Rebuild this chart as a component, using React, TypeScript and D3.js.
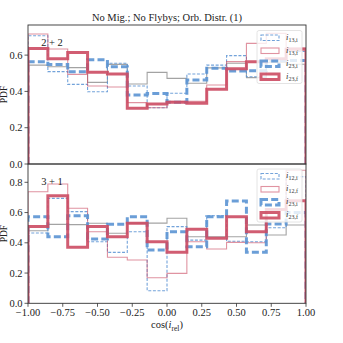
import React from "react";
import * as d3 from "d3";

// bin edges of cos(i_rel): 14 bins from -1 to 1
const edges = d3.range(15).map((i) => -1 + (2 * i) / 14);

// panel "2+2"
const top_gray = [0.545, 0.536, 0.531, 0.45, 0.549, 0.441, 0.505, 0.472, 0.445, 0.53, 0.555, 0.476, 0.56, 0.55];
const top_i13i = [0.707, 0.509, 0.439, 0.398, 0.555, 0.43, 0.31, 0.39, 0.496, 0.545, 0.597, 0.481, 0.58, 0.62];
const top_i13f = [0.716, 0.634, 0.494, 0.43, 0.424, 0.338, 0.31, 0.345, 0.345, 0.435, 0.564, 0.665, 0.72, 0.64];
const top_i23i = [0.564, 0.549, 0.509, 0.575, 0.536, 0.38, 0.389, 0.34, 0.463, 0.527, 0.512, 0.514, 0.57, 0.57];
const top_i23f = [0.637, 0.58, 0.615, 0.505, 0.496, 0.307, 0.33, 0.34, 0.335, 0.412, 0.525, 0.564, 0.58, 0.632];

// panel "3+1"
const bot_gray = [0.48, 0.522, 0.52, 0.529, 0.463, 0.53, 0.53, 0.562, 0.44, 0.44, 0.44, 0.518, 0.452, 0.518];
const bot_i12i = [0.465, 0.694, 0.606, 0.407, 0.337, 0.473, 0.083, 0.507, 0.418, 0.579, 0.41, 0.407, 0.5, 0.837];
const bot_i12f = [0.738, 0.789, 0.628, 0.473, 0.304, 0.286, 0.169, 0.198, 0.407, 0.359, 0.403, 0.4, 0.62, 0.88];
const bot_i23i = [0.573, 0.44, 0.579, 0.425, 0.522, 0.573, 0.352, 0.473, 0.374, 0.573, 0.676, 0.337, 0.524, 0.6];
const bot_i23f = [0.507, 0.711, 0.37, 0.507, 0.44, 0.529, 0.407, 0.337, 0.489, 0.43, 0.573, 0.473, 0.62, 0.678];

const xTicks = [-1, -0.75, -0.5, -0.25, 0, 0.25, 0.5, 0.75, 1];
const topYTicks = [0, 0.2, 0.4, 0.6];
const botYTicks = [0, 0.2, 0.4, 0.6, 0.8];

const RED = "#cc4b63";
const BLUE = "#5b93d3";
const FONT = "Liberation Serif, serif";

const styles = {
  gray: { stroke: "#999", width: 1.1, dash: "none", opacity: 0.9 },
  blueThin: { stroke: BLUE, width: 1.1, dash: "3,1.6", opacity: 0.85 },
  redThin: { stroke: RED, width: 1.1, dash: "none", opacity: 0.6 },
  blueThick: { stroke: BLUE, width: 3, dash: "7,3.2", opacity: 0.9 },
  redThick: { stroke: RED, width: 3, dash: "none", opacity: 0.9 },
};

const left = 28, right = 306;
const x = d3.scaleLinear().domain([-1, 1]).range([left, right]);

function stepPath(vals, y) {
  const pts = [[edges[0], 0]];
  vals.forEach((v, i) => {
    pts.push([edges[i], v]);
    pts.push([edges[i + 1], v]);
  });
  pts.push([edges[14], 0]);
  return d3.line().x((d) => x(d[0])).y((d) => y(d[1]))(pts);
}

const fmt = (v) => d3.format(".1f")(v);
const fmtX = (v) => d3.format(".2f")(v).replace("-", "\u2212");

function Label({ sub, x0, y0 }) {
  return (
    <text x={x0} y={y0} fontFamily={FONT} fontSize={8.5} fill="#333">
      <tspan fontStyle="italic">i</tspan>
      <tspan fontSize={6} dy={2}>{sub}</tspan>
    </text>
  );
}

function Panel({ id, y0, y1, ymax, ticks, series, legend, tag, showX }) {
  const y = d3.scaleLinear().domain([0, ymax]).range([y1, y0]);
  const lx = 257, lw = 45;
  const ly = y0 + (id === "a" ? 5.5 : 5);
  const mid = (y0 + y1) / 2;
  return (
    <g>
      <defs>
        <clipPath id={"clip" + id}>
          <rect x={left} y={y0} width={right - left} height={y1 - y0} />
        </clipPath>
      </defs>
      <g clipPath={`url(#clip${id})`}>
        {series.map((s, i) => (
          <path key={i} d={stepPath(s.vals, y)} fill="none" stroke={s.st.stroke}
            strokeWidth={s.st.width} strokeDasharray={s.st.dash} strokeOpacity={s.st.opacity} />
        ))}
      </g>
      <rect x={left} y={y0} width={right - left} height={y1 - y0} fill="none" stroke="#333" strokeWidth={0.9} />
      {ticks.map((t) => (
        <g key={t}>
          <line x1={left - 3.5} x2={left} y1={y(t)} y2={y(t)} stroke="#333" strokeWidth={0.8} />
          <text x={left - 5.5} y={y(t) + 3.6} textAnchor="end" fontFamily={FONT} fontSize={10.5} fill="#222">{fmt(t)}</text>
        </g>
      ))}
      {showX && xTicks.map((t) => (
        <g key={t}>
          <line x1={x(t)} x2={x(t)} y1={y1} y2={y1 + 3.5} stroke="#333" strokeWidth={0.8} />
          <text x={x(t)} y={y1 + 12.5} textAnchor="middle" fontFamily={FONT} fontSize={10.5} fill="#222">{fmtX(t)}</text>
        </g>
      ))}
      <text x={7} y={mid} transform={`rotate(-90 7 ${mid})`} textAnchor="middle"
        fontFamily={FONT} fontSize={9.5} fill="#222">PDF</text>
      <text x={52} y={y0 + 21} textAnchor="middle" fontFamily={FONT} fontSize={10.5} fill="#222">{tag}</text>
      <rect x={lx} y={ly} width={lw} height={53} rx={2} fill="#fff" fillOpacity={0.8} stroke="#ddd" strokeWidth={0.8} />
      {legend.map((s, i) => {
        const ry = ly + 7 + i * 13;
        return (
          <g key={i}>
            <rect x={lx + 4} y={ry - 2.5} width={18} height={5.5} fill="none" stroke={s.st.stroke}
              strokeWidth={s.st.width} strokeDasharray={s.st.dash} strokeOpacity={s.st.opacity} />
            <Label sub={s.sub} x0={lx + 29} y0={ry + 2} />
          </g>
        );
      })}
    </g>
  );
}

export default function App() {
  const topSeries = [
    { vals: top_gray, st: styles.gray },
    { vals: top_i13i, st: styles.blueThin },
    { vals: top_i13f, st: styles.redThin },
    { vals: top_i23i, st: styles.blueThick },
    { vals: top_i23f, st: styles.redThick },
  ];
  const botSeries = [
    { vals: bot_gray, st: styles.gray },
    { vals: bot_i12i, st: styles.blueThin },
    { vals: bot_i12f, st: styles.redThin },
    { vals: bot_i23i, st: styles.blueThick },
    { vals: bot_i23f, st: styles.redThick },
  ];
  const topLegend = [
    { sub: "13,i", st: styles.blueThin },
    { sub: "13,f", st: styles.redThin },
    { sub: "23,i", st: styles.blueThick },
    { sub: "23,f", st: styles.redThick },
  ];
  const botLegend = [
    { sub: "12,i", st: styles.blueThin },
    { sub: "12,f", st: styles.redThin },
    { sub: "23,i", st: styles.blueThick },
    { sub: "23,f", st: styles.redThick },
  ];
  return (
    <svg width={343} height={343} style={{ position: "absolute", left: 0, top: 0, background: "#fff" }}>
      <text x={167} y={21} textAnchor="middle" fontFamily={FONT} fontSize={10.5} fill="#222">
        No Mig.; No Flybys; Orb. Distr. (1)
      </text>
      <Panel id="a" y0={25} y1={164} ymax={0.766} ticks={topYTicks} series={topSeries} legend={topLegend} tag="2 + 2" showX={false} />
      <Panel id="b" y0={164} y1={303.3} ymax={0.921} ticks={botYTicks} series={botSeries} legend={botLegend} tag="3 + 1" showX={true} />
      <text x={167} y={328} textAnchor="middle" fontFamily={FONT} fontSize={10.5} fill="#222">
        cos(<tspan fontStyle="italic">i</tspan><tspan fontSize={7.5} dy={2.5}>rel</tspan><tspan dy={-2.5}>)</tspan>
      </text>
    </svg>
  );
}
